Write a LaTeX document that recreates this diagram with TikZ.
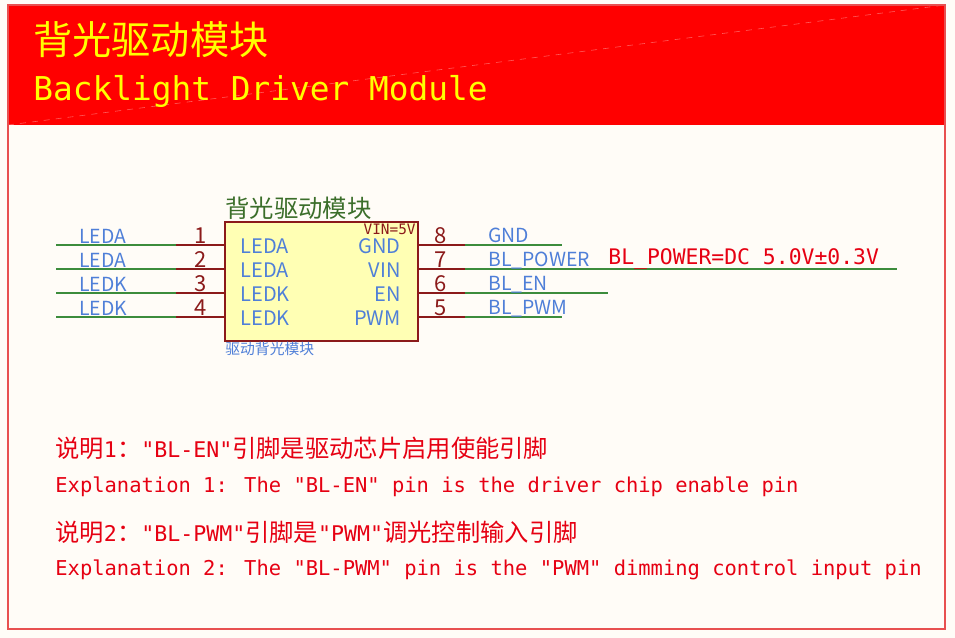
\documentclass[tikz,border=0pt]{standalone}
\usepackage{fontspec}
\newfontfamily\cjk{Noto Sans CJK SC}
\newfontfamily\mono{DejaVu Sans Mono}
\definecolor{bgcol}{HTML}{FFFCF7}
\definecolor{bannerred}{HTML}{FF0000}
\definecolor{framered}{HTML}{E85050}
\definecolor{titleyellow}{HTML}{FFFF00}
\definecolor{pinred}{HTML}{8B1A1A}
\definecolor{wiregreen}{HTML}{3C8C3C}
\definecolor{netblue}{HTML}{4F7FD8}
\definecolor{chipfill}{HTML}{FFFFB4}
\definecolor{chiptitle}{HTML}{3B6E2A}
\definecolor{notered}{HTML}{E60012}
\newcommand{\lat}[1]{{\mono\fontsize{10.8}{10.8}\selectfont #1}}
\tikzset{
    pinline/.style={pinred, line width=0.75pt},
    wire/.style={wiregreen, line width=0.6pt},
    chipbox/.style={draw=pinred, fill=chipfill, line width=0.75pt},
    netlbl/.style={inner sep=0pt, text=netblue, font=\cjk\fontsize{9.7}{9.7}\selectfont},
    pinnum/.style={inner sep=0pt, text=pinred, font=\cjk\fontsize{11}{11}\selectfont},
    pinname/.style={inner sep=0pt, text=netblue, font=\cjk\fontsize{10}{10}\selectfont},
    note/.style={inner sep=0pt, text=notered},
    notecn/.style={note, anchor=west, font=\cjk\fontsize{12.15}{12.15}\selectfont},
    noteen/.style={note, anchor=base west, font=\mono\fontsize{10.23}{10.23}\selectfont}
}
\begin{document}
\begin{tikzpicture}[x=0.5pt,y=-0.5pt]

\useasboundingbox (0,0) rectangle (955,638);
\fill[bgcol] (0,0) rectangle (955,638);

\coordinate (cFrameNW) at (8,5);
\coordinate (cFrameSE) at (945,629);
\coordinate (cBannerSE) at (945,125);
\fill[bannerred] (cFrameNW) rectangle (cBannerSE);
\draw[white, opacity=0.35, line width=0.3pt, dashed] (8,125) -- (945,5);
\draw[framered, line width=0.75pt] (cFrameNW) rectangle (cFrameSE);

\node (nTitleCN) [inner sep=0pt, anchor=west, text=titleyellow,
    font=\cjk\fontsize{19.6}{19.6}\selectfont] at (33,40) {背光驱动模块};
\node (nTitleEN) [inner sep=0pt, anchor=base west, text=titleyellow,
    font=\mono\fontsize{16.4}{16.4}\selectfont] at (33,100) {Backlight Driver Module};

% chip
\coordinate (cChipNW) at (225,222);
\coordinate (cChipSE) at (418,341);
\draw[chipbox] (cChipNW) rectangle (cChipSE);
\node (nChipTitle) [inner sep=0pt, anchor=west, text=chiptitle,
    font=\cjk\fontsize{12.2}{12.2}\selectfont] at (225,208) {背光驱动模块};
\node (nChipSub) [inner sep=0pt, anchor=west, text=netblue,
    font=\cjk\fontsize{7.4}{7.4}\selectfont] at (225,349) {驱动背光模块};
\node (nVin) [inner sep=0pt, anchor=east, text=pinred,
    font=\mono\fontsize{7.2}{7.2}\selectfont] at (416,229) {VIN=5V};

\foreach \i/\y/\t in
{1/245/LEDA,
    2/269/LEDA,
    3/293/LEDK,
    4/317/LEDK
}
{
    \coordinate (cL\i) at (225,\y);
    \coordinate (cLP\i) at (176,\y);
    \coordinate (cLW\i) at (56,\y);
    \draw[pinline] (cL\i) -- (cLP\i);
    \draw[wire] (cLP\i) -- (cLW\i);
    \node (nLNum\i) [pinnum, anchor=base] at (201,\y-2) {\i};
    \node (nLNet\i) [netlbl, anchor=base west] at (79,\y-2) {\t};
    \node (nLPin\i) [pinname, anchor=base west] at (240,\y+8) {\t};
};

\foreach \i/\y/\u/\t/\e in
{8/245/GND/GND/562,
    7/269/VIN/BL\_POWER/897,
    6/293/EN/BL\_EN/608,
    5/317/PWM/BL\_PWM/562
}
{
    \coordinate (cR\i) at (418,\y);
    \coordinate (cRP\i) at (465,\y);
    \coordinate (cRW\i) at (\e,\y);
    \draw[pinline] (cR\i) -- (cRP\i);
    \draw[wire] (cRP\i) -- (cRW\i);
    \node (nRNum\i) [pinnum, anchor=base] at (441,\y-2) {\i};
    \node (nRNet\i) [netlbl, anchor=base west] at (488,\y-3) {\t};
    \node (nRPin\i) [pinname, anchor=base east] at (401,\y+8) {\u};
};

\node (nPower) [note, anchor=base west, font=\mono\fontsize{10.7}{10.7}\selectfont]
    at (608,264) {BL\_POWER=DC 5.0V±0.3V};

% notes
\node (nNote1CN) [notecn] at (55,448) {说明\lat{1}：\lat{"BL-EN"}引脚是驱动芯片启用使能引脚};
\node (nNote1EN) [noteen] at (55,492) {Explanation 1: The "BL-EN" pin is the driver chip enable pin};
\node (nNote2CN) [notecn] at (55,532) {说明\lat{2}：\lat{"BL-PWM"}引脚是\lat{"PWM"}调光控制输入引脚};
\node (nNote2EN) [noteen] at (55,575) {Explanation 2: The "BL-PWM" pin is the "PWM" dimming control input pin};

\end{tikzpicture}
\end{document}
